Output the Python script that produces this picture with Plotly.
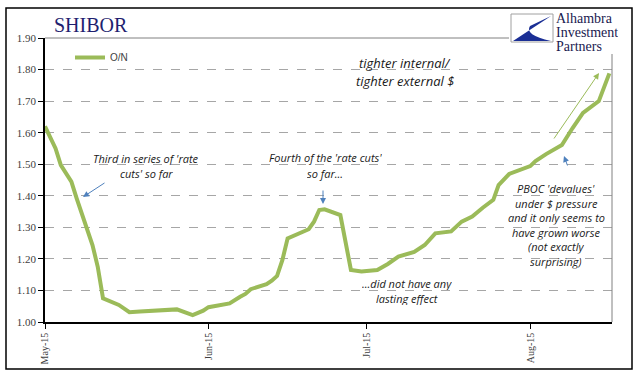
import plotly.graph_objects as go

# ---- data ----
dates = [
    "2015-05-01", "2015-05-03", "2015-05-04", "2015-05-06", "2015-05-07", "2015-05-08",
    "2015-05-09", "2015-05-10", "2015-05-11", "2015-05-12", "2015-05-15", "2015-05-17",
    "2015-05-19", "2015-05-23", "2015-05-26", "2015-05-29", "2015-05-31", "2015-06-01",
    "2015-06-05", "2015-06-07", "2015-06-08", "2015-06-09", "2015-06-12", "2015-06-13",
    "2015-06-14", "2015-06-15", "2015-06-16", "2015-06-20", "2015-06-21", "2015-06-22",
    "2015-06-23", "2015-06-26", "2015-06-28", "2015-06-30", "2015-07-03", "2015-07-05",
    "2015-07-07", "2015-07-10", "2015-07-12", "2015-07-14", "2015-07-17", "2015-07-19",
    "2015-07-21", "2015-07-23", "2015-07-25", "2015-07-26", "2015-07-28", "2015-08-01",
    "2015-08-02", "2015-08-04", "2015-08-07", "2015-08-09", "2015-08-11", "2015-08-14",
    "2015-08-16",
]
on_rate = [
    1.620, 1.550, 1.497, 1.445, 1.392, 1.344,
    1.290, 1.244, 1.175, 1.075, 1.054, 1.031,
    1.033, 1.038, 1.040, 1.022, 1.036, 1.047,
    1.059, 1.080, 1.089, 1.104, 1.120, 1.131,
    1.146, 1.196, 1.265, 1.294, 1.318, 1.355,
    1.357, 1.339, 1.165, 1.160, 1.165, 1.184,
    1.207, 1.222, 1.244, 1.281, 1.287, 1.318,
    1.334, 1.362, 1.387, 1.434, 1.469, 1.494,
    1.510, 1.532, 1.561, 1.614, 1.663, 1.700,
    1.788,
]
series_name = "O/N"
month_ticks = ["2015-05-01", "2015-06-01", "2015-07-01", "2015-08-01"]
month_labels = ["May-15", "Jun-15", "Jul-15", "Aug-15"]
y_ticks = [1.00, 1.10, 1.20, 1.30, 1.40, 1.50, 1.60, 1.70, 1.80, 1.90]

# ---- layout geometry (pixels) ----
FW, FH = 641, 379
L, R, T, B = 45, 612, 38, 322
W, H = R - L, B - T


def px(x):
    return (x - L) / W


def py(y):
    return (B - y) / H


GREEN = "#9BBB59"
BLUE_ARROW = "#4F81BD"
SERIF = "Liberation Serif, Times New Roman, serif"
ITAL = "Open Sans, Lato, sans-serif"

fig = go.Figure()
fig.add_trace(go.Scatter(
    x=dates, y=on_rate, mode="lines", name=series_name,
    line=dict(color=GREEN, width=4),
))

fig.update_layout(
    width=FW, height=FH,
    margin=dict(l=L, r=FW - R, t=T, b=FH - B, pad=0),
    paper_bgcolor="white", plot_bgcolor="white",
    showlegend=True,
    legend=dict(x=px(70), y=py(43), xanchor="left", yanchor="top",
                bgcolor="rgba(0,0,0,0)", borderwidth=0,
                font=dict(family="Liberation Sans, Arial, sans-serif", size=10, color="#404040")),
    xaxis=dict(
        type="date", range=["2015-05-01", "2015-08-16 12:00"],
        tickvals=month_ticks, ticktext=month_labels, tickangle=-90,
        showgrid=False, zeroline=False,
        showline=True, linecolor="black", linewidth=1.5,
        ticks="outside", ticklen=5, tickcolor="black",
        tickfont=dict(family=SERIF, size=10, color="#404040"),
    ),
    yaxis=dict(
        range=[1.0, 1.9], tickvals=y_ticks,
        ticktext=[f"{v:.2f}" for v in y_ticks],
        showgrid=True, gridcolor="#A6A6A6", gridwidth=1, griddash="dash",
        zeroline=False,
        showline=True, linecolor="black", linewidth=1.5,
        ticks="outside", ticklen=5, tickcolor="black",
        tickfont=dict(family=SERIF, size=11, color="#404040"),
    ),
)

shapes = []
# plot-area border (top and right, gray)
shapes.append(dict(type="line", xref="paper", yref="paper", x0=0, x1=1, y0=1, y1=1,
                   line=dict(color="#808080", width=1)))
shapes.append(dict(type="line", xref="paper", yref="paper", x0=1, x1=1, y0=0, y1=1,
                   line=dict(color="#808080", width=1)))
# outer chart frame
shapes.append(dict(type="rect", xref="paper", yref="paper",
                   x0=px(6), x1=px(632), y0=py(369), y1=py(8),
                   line=dict(color="black", width=1.5), layer="above"))
# logo background
shapes.append(dict(type="rect", xref="paper", yref="paper",
                   x0=px(509), x1=px(630), y0=py(54), y1=py(10),
                   line=dict(width=0), fillcolor="white", layer="above"))
# logo square
shapes.append(dict(type="rect", xref="paper", yref="paper",
                   x0=px(511), x1=px(553), y0=py(42), y1=py(14),
                   line=dict(color="#A0A0A0", width=1), fillcolor="white", layer="above"))


def P(x, y):
    return f"{px(x):.5f},{py(y):.5f}"


logo_path = ("M " + P(551, 16) + " L " + P(513, 41) + " L " + P(551, 41)
             + " Q " + P(524, 35) + " " + P(530, 26) + " Z")
shapes.append(dict(type="path", xref="paper", yref="paper", path=logo_path,
                   fillcolor="#1B2F95", line=dict(width=0), layer="above"))
fig.update_layout(shapes=shapes)

ann = []
# title
ann.append(dict(text="SHIBOR", xref="paper", yref="paper", x=px(52), y=py(25),
                xanchor="left", yanchor="middle", showarrow=False,
                font=dict(family=SERIF, size=20, color="#1F1F70")))
# logo text
for i, word in enumerate(["Alhambra", "Investment", "Partners"]):
    ann.append(dict(text=word, xref="paper", yref="paper",
                    x=px(555), y=py(18 + 14.5 * i), xanchor="left", yanchor="middle",
                    showarrow=False, height=13, borderpad=0, valign="middle",
                    font=dict(family=SERIF, size=14, color="#1A1A50")))


def note(lines, x, y0, step, size=11, color="#1A1A1A"):
    for i, line in enumerate(lines):
        ann.append(dict(text=line, xref="paper", yref="paper", x=px(x), y=py(y0 + step * i),
                        xanchor="center", yanchor="middle", showarrow=False,
                        height=step - 1, borderpad=0, valign="middle",
                        font=dict(family=ITAL, size=size, color=color, style="italic")))


def arrow(hx, hy, tx, ty, color, width=1):
    ann.append(dict(text="", xref="paper", yref="paper", x=px(hx), y=py(hy),
                    ax=tx - hx, ay=ty - hy, axref="pixel", ayref="pixel",
                    showarrow=True, arrowhead=2, arrowsize=1.2, arrowwidth=width,
                    arrowcolor=color))


note(["Third in series of 'rate", "cuts' so far"], 146, 158, 15)
arrow(83, 197, 106, 182, BLUE_ARROW)
note(["Fourth of the 'rate cuts'", "so far..."], 325, 157, 16)
arrow(323, 204, 323, 189, BLUE_ARROW)
note(["...did not have any", "lasting effect"], 407, 283, 15)
note(["PBOC 'devalues'", "under $ pressure", "and it only seems to",
      "have grown worse", "(not exactly", "surprising)"], 556, 189, 14.6)
arrow(564, 156, 568, 167, BLUE_ARROW)
note(["tighter internal/", "tighter external $"], 405, 62, 18, size=13)
arrow(599, 73, 553, 140, GREEN)

fig.update_layout(annotations=ann)

fig.write_html(
    "out.html",
    config={"displayModeBar": False},
    post_script="document.body.style.margin='0';document.body.style.overflow='hidden';",
)
